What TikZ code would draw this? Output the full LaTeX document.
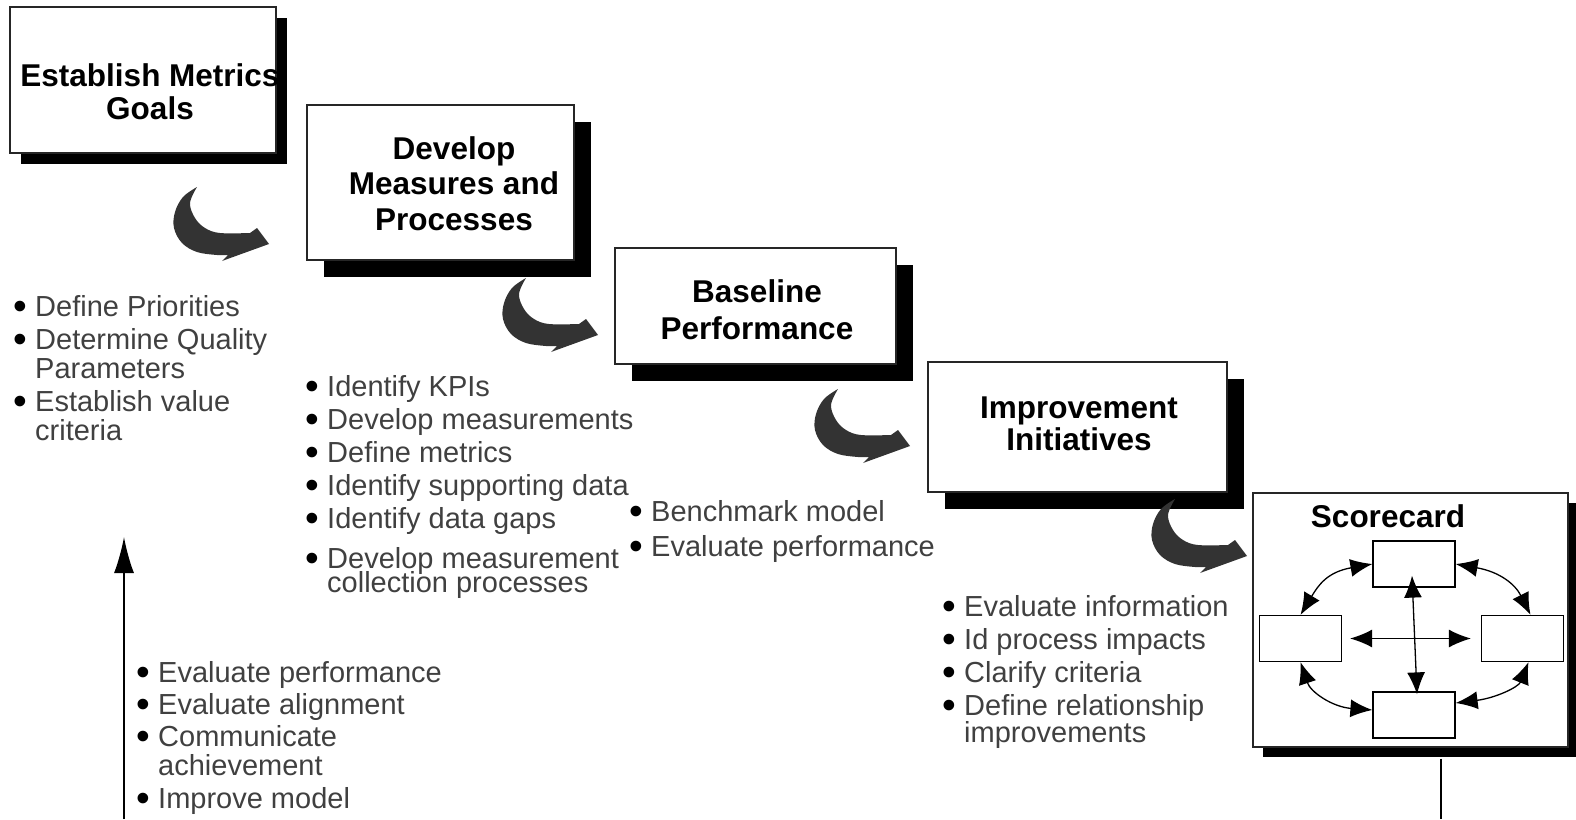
\documentclass[tikz,border=0pt]{standalone}
\usepackage{fontspec}
\setmainfont{Liberation Sans}
\usepackage{xcolor}
\usepackage{graphicx}
\usetikzlibrary{arrows.meta,calc,positioning,shadows}
\definecolor{txtgray}{HTML}{404040}
\definecolor{arrgray}{HTML}{333333}
\newcommand{\bl}{\makebox[22pt][l]{\raisebox{-3pt}{\scalebox{1.35}{\textcolor{black}{\char"2022}}}}}
\newcommand{\ind}{\hspace*{22pt}}

\begin{document}
\begin{tikzpicture}[x=1pt,y=-1pt,
	stagebox/.style={draw=black!85,line width=1.2pt,fill=white,inner sep=0pt,
		drop shadow={shadow xshift=#1,shadow yshift=-#1,fill=black,opacity=1}},
	stagebox/.default=17pt,
	stagetitle/.style={font=\fontsize{31.5}{32}\selectfont\bfseries,align=center,anchor=north,inner sep=0pt},
	bulletlist/.style={font=\fontsize{29}{33}\selectfont,text=txtgray,align=left,anchor=north west,inner sep=0pt},
	cell/.style={draw,line width=1.2pt,fill=white,minimum width=82pt,minimum height=46pt,inner sep=0pt},
	link/.style={line width=1.3pt,{Latex[length=22pt,width=18pt]}-{Latex[length=22pt,width=18pt]}},
	turnarrow/.pic={\fill[arrgray] plot[smooth,tension=0.6] coordinates {(-72,-57) (-86,-47) (-94,-32) (-95,-16) (-87,-1) (-72,8) (-52,11) (-41,11)}
		-- (-47,17) -- (0,0) -- (-12,-16)
		-- plot[smooth,tension=0.6] coordinates {(-19,-11) (-49,-11) (-64,-16) (-74,-26) (-79,-41) (-72,-57)} -- cycle;}]
	\useasboundingbox (0,0) rectangle (1576,819);

	\node[stagebox=11pt,minimum width=266pt,minimum height=146pt] (goals) at (143,80) {};
	\node[stagebox,minimum width=267pt,minimum height=155pt] (measures) at (440.5,182.5) {};
	\node[stagebox,minimum width=281pt,minimum height=116pt] (baseline) at (755.5,306) {};
	\node[stagebox,minimum width=299pt,minimum height=130pt] (improve) at (1077.5,427) {};
	\node[stagebox=10pt,minimum width=315pt,minimum height=254pt] (score) at (1410.5,620) {};

	\node[stagetitle] (goalsT) at (150,63) {Establish Metrics\\[1pt]Goals};
	\node[stagetitle] (measuresT) at (454,136) {Develop\\[3.5pt]Measures and\\[3.5pt]Processes};
	\node[stagetitle] (baselineT) at (757,279) {Baseline\\[5pt]Performance};
	\node[stagetitle] (improveT) at (1079,397) {Improvement\\Initiatives};
	\node[stagetitle,anchor=base] (scoreT) at (1388,527) {Scorecard};

	\foreach \tx/\ty in {269/244,598/335,910/446,1247/556} \pic at (\tx,\ty) {turnarrow};

	\node[bulletlist] (goalsL) at (13,295) {\bl Define Priorities\\\bl Determine Quality\\[-4pt]\ind Parameters\\\bl Establish value\\[-4pt]\ind criteria};
	\node[bulletlist] (measuresL) at (305,375) {\bl Identify KPIs\\\bl Develop measurements\\\bl Define metrics\\\bl Identify supporting data\\\bl Identify data gaps\\[7pt]\bl Develop measurement\\[-9pt]\ind collection processes};
	\node[bulletlist] (baselineL) at (629,500) {\bl Benchmark model\\[2pt]\bl Evaluate performance};
	\node[bulletlist] (improveL) at (942,595) {\bl Evaluate information\\\bl Id process impacts\\\bl Clarify criteria\\\bl Define relationship\\[-6pt]\ind improvements};
	\node[bulletlist] (scoreL) at (136,661) {\bl Evaluate performance\\[-1pt]\bl Evaluate alignment\\[-1pt]\bl Communicate\\[-4pt]\ind achievement\\\bl Improve model};

	\node[cell] (tb) at (1414,564) {};
	\node[cell] (lb) at (1300.5,638.5) {};
	\node[cell] (rb) at (1522.5,638.5) {};
	\node[cell] (bb) at (1414,715) {};
	\draw[link] (tb.west) .. controls +(-45,8) and +(18,-30) .. (lb.north);
	\draw[link] (tb.east) .. controls +(45,8) and +(-15,-30) .. ([xshift=8pt]rb.north);
	\draw[link] (lb.south) .. controls +(10,30) and +(-40,-3) .. ([yshift=5pt]bb.west);
	\draw[link] ([xshift=6pt]rb.south) .. controls +(-10,25) and +(40,-5) .. ([yshift=12pt]bb.east);
	\draw[link] ([xshift=8pt]lb.east) -- ([xshift=-10pt]rb.west);
	\draw[link] ($(tb.south)+(-2,-12)$) -- ($(bb.north)+(3,3)$);

	\coordinate (loopW) at (124,819);
	\coordinate (loopTop) at (124,537);
	\coordinate (loopE) at (1441,819);
	\draw[line width=1.5pt,-{Latex[length=36pt,width=20pt]}] (loopW) -- (loopTop);
	\draw[line width=1.5pt] ($(score.south)+(30.5,11)$) -- (loopE);
\end{tikzpicture}
\end{document}
